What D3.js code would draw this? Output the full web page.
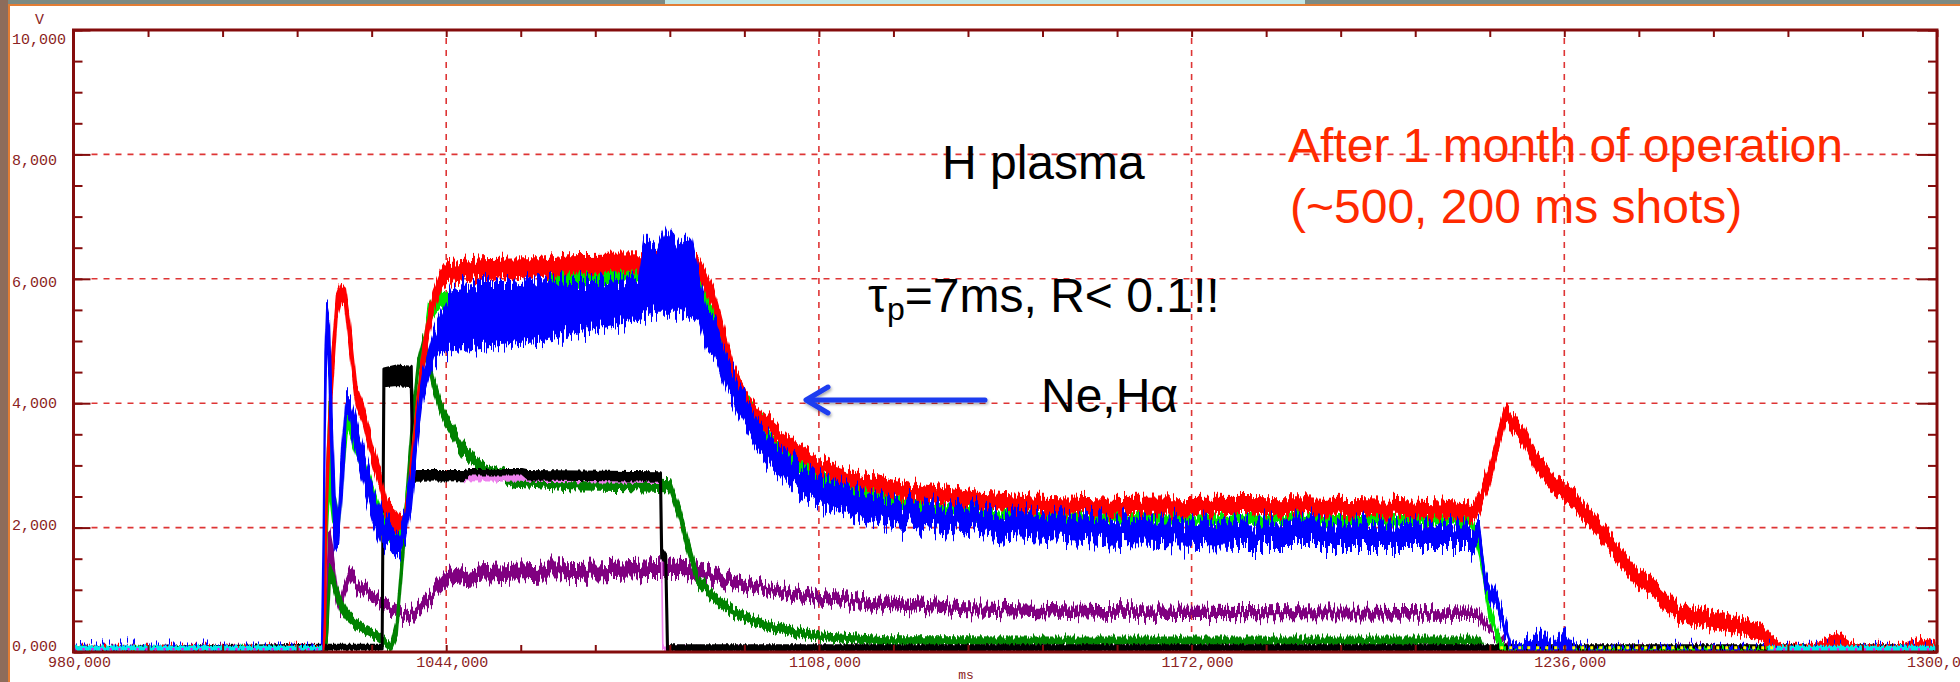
<!DOCTYPE html>
<html><head><meta charset="utf-8">
<script src="https://cdn.jsdelivr.net/npm/d3@7"></script>
<style>html,body{margin:0;padding:0;background:#fff;overflow:hidden}</style>
</head><body><svg id="c" width="1960" height="682"></svg>
<script>
// ---------- data ----------
const timeDomain = [980, 1300];
const voltDomain = [0, 10];
const timeTickValues = [980, 1044, 1108, 1172, 1236, 1300];
const timeTickLabels = ["980,000", "1044,000", "1108,000", "1172,000", "1236,000", "1300,000"];
const voltTickValues = [0, 2, 4, 6, 8, 10];
const voltTickLabels = ["0,000", "2,000", "4,000", "6,000", "8,000", "10,000"];
const xUnit = "ms";
const yUnit = "V";

// each trace: [time ms, lower edge V, upper edge V] (noise envelope)
const redTrace = [
 [980,0,0.07],[1022.8,0,0.07],[1023.2,0.3,1.2],[1023.5,2.3,2.9],[1024.3,4.1,4.7],[1025.2,5.35,5.7],
 [1026.0,5.65,5.9],[1026.6,5.6,5.85],[1027.3,5.0,5.4],[1028.6,3.95,4.25],[1029.7,3.65,3.95],[1031.4,3.0,3.3],
 [1032.6,2.6,2.9],[1033.8,2.1,2.4],[1034.9,1.95,2.3],[1036.0,1.9,2.15],[1036.9,1.95,2.2],[1037.5,2.3,2.6],
 [1038.3,3.1,3.4],[1039.5,4.15,4.5],[1040.7,4.95,5.3],[1041.8,5.5,5.8],[1043.0,5.8,6.1],[1044.1,5.95,6.25],
 [1050,6.0,6.3],[1060,6.02,6.32],[1065,6.1,6.38],[1080,6.12,6.4],[1087,6.05,6.35],[1088.5,5.8,6.1],
 [1089.8,5.55,5.85],[1091.0,5.15,5.45],[1092.2,4.7,5.0],[1093.5,4.3,4.55],[1095.5,3.92,4.18],[1098,3.62,3.88],
 [1100.7,3.4,3.65],[1104,3.13,3.38],[1107.3,2.92,3.16],[1110,2.78,3.02],[1113.9,2.65,2.9],[1120.4,2.5,2.76],
 [1127,2.4,2.65],[1135,2.3,2.55],[1145,2.24,2.5],[1160,2.2,2.46],[1175,2.22,2.48],[1190,2.22,2.47],
 [1205,2.2,2.45],[1215,2.16,2.42],[1220.6,2.12,2.38],[1223,2.65,2.95],[1226,3.7,3.95],[1227,3.55,3.8],
 [1228.9,3.33,3.6],[1231.1,2.9,3.18],[1234,2.58,2.85],[1237.6,2.3,2.58],[1241.2,1.94,2.2],[1244.9,1.5,1.78],
 [1248.5,1.08,1.34],[1252.1,0.82,1.08],[1255.7,0.5,0.75],[1259,0.42,0.68],[1262.9,0.34,0.6],[1266,0.3,0.54],
 [1269.4,0.22,0.48],[1271.5,0.05,0.25],[1273.8,0,0.1],[1279,0,0.1],[1283,0.05,0.3],[1286,0,0.1],
 [1294,0,0.1],[1297.6,0.03,0.22],[1300,0,0.12]
];
const blueTrace = [
 [980,0,0.06],[1022.6,0,0.06],[1022.9,0.8,2.0],[1023.2,3.5,4.8],[1023.5,5.1,5.6],[1023.9,4.4,5.4],
 [1024.4,2.6,3.8],[1024.9,1.75,2.6],[1025.5,1.65,2.1],[1026.1,2.4,3.2],[1026.8,3.65,4.1],[1027.5,3.8,4.1],
 [1028.5,3.2,3.75],[1030,2.6,3.15],[1031.5,2.1,2.65],[1033,1.75,2.25],[1034.5,1.6,2.0],[1036,1.55,1.9],
 [1037,1.7,2.15],[1038,2.35,2.9],[1039,3.3,3.8],[1040,4.1,4.5],[1041.8,4.65,5.1],[1043,4.8,5.4],
 [1045,4.85,5.85],[1050,4.9,5.95],[1055,4.95,5.95],[1060,5.0,6.0],[1065,5.1,5.95],[1070,5.2,5.95],
 [1075,5.3,6.0],[1077,5.35,6.0],[1078,5.4,6.6],[1080,5.45,6.4],[1082,5.45,6.85],[1084,5.45,6.5],
 [1086,5.4,6.7],[1087.5,5.3,6.0],[1088.7,4.9,5.5],[1090.2,4.75,5.35],[1092.2,4.2,4.7],[1094.1,3.8,4.3],
 [1097.4,3.3,3.75],[1100,3.0,3.45],[1104,2.6,3.05],[1109.2,2.35,2.8],[1115,2.15,2.6],[1120,2.05,2.45],
 [1130,1.95,2.35],[1140,1.85,2.25],[1160,1.75,2.15],[1180,1.7,2.1],[1200,1.7,2.1],[1220,1.7,2.05],
 [1221.4,1.6,1.95],[1222,1.3,1.55],[1222.4,1.05,1.3],[1224.6,0.62,0.85],[1226,0.22,0.42],[1226.7,0.05,0.2],
 [1228,0,0.1],[1232,0,0.3],[1234,0,0.12],[1236,0,0.35],[1238,0,0.08],[1240,0,0.04],[1300,0,0.04]
];
const greenTrace = [
 [980,0,0.05],[1023.3,0,0.05],[1023.6,0.3,0.7],[1024.0,1.05,1.35],[1024.5,1.1,1.3],[1025,0.9,1.1],
 [1026,0.65,0.85],[1027,0.5,0.66],[1028.5,0.38,0.52],[1030,0.3,0.42],[1032,0.2,0.32],[1033.5,0.1,0.22],
 [1034.5,0.02,0.12],[1035.5,0.25,0.5],[1036.6,1.5,1.75],[1037.5,2.7,2.95],[1038.3,3.65,3.9],[1039.2,4.5,4.7],
 [1040.1,4.88,5.05],[1041,4.6,4.8],[1041.8,4.25,4.45],[1043,3.85,4.05],[1044.1,3.6,3.8],[1046.9,3.15,3.35],
 [1049.8,2.9,3.05],[1055.5,2.68,2.85],[1065,2.62,2.8],[1078.4,2.6,2.78],[1082.5,2.58,2.76],[1084.2,2.1,2.3],
 [1085.5,1.6,1.8],[1087.2,1.08,1.24],[1089.5,0.86,1.0],[1092.5,0.62,0.76],[1096,0.47,0.59],[1099.3,0.36,0.48],
 [1104,0.26,0.38],[1108,0.2,0.3],[1119,0.12,0.24],[1150,0.11,0.23],[1221.5,0.11,0.23],[1222.2,0.02,0.07],
 [1300,0,0.04]
];
const limeTrace = [
 [980,0,0.05],[1022.7,0,0.05],[1023.3,1.4,2.4],[1023.9,2.6,4.0],[1024.5,2.1,2.7],[1025.5,1.9,2.2],
 [1027,3.6,3.9],[1030,2.8,3.1],[1033,1.95,2.2],[1035,1.75,1.95],[1036.5,1.85,2.05],[1038,2.8,3.1],
 [1039.5,4.2,4.5],[1041,5.3,5.6],[1043,5.55,5.8],[1050,5.45,5.7],[1060,5.55,5.8],[1063,5.88,6.15],
 [1070,5.92,6.2],[1080,5.95,6.22],[1086,5.92,6.18],[1088,5.55,5.85],[1090,5.25,5.55],[1092.2,4.5,4.75],
 [1095,3.95,4.2],[1100,3.25,3.48],[1105,2.85,3.08],[1110,2.6,2.82],[1120,2.32,2.55],[1130,2.15,2.36],
 [1150,2.05,2.22],[1220,2.03,2.2],[1221.5,1.5,1.8],[1223,0.6,0.8],[1225,0.05,0.2],[1226,0,0.04],[1300,0,0.04]
];
const purpleTrace = [
 [980,0,0.05],[1023.2,0,0.05],[1023.5,0.3,0.8],[1023.9,1.3,1.9],[1024.5,1.3,1.6],[1025.2,0.85,1.05],
 [1025.8,0.66,0.82],[1026.5,0.9,1.06],[1027.5,1.12,1.3],[1029,0.98,1.13],[1031,0.83,0.97],[1033.2,0.68,0.81],
 [1036.1,0.55,0.69],[1037.8,0.5,0.65],[1039.5,0.64,0.8],[1041.8,0.86,1.02],[1044.1,1.1,1.3],[1050,1.15,1.36],
 [1060,1.18,1.4],[1070,1.2,1.42],[1080,1.23,1.46],[1086,1.22,1.44],[1092.7,1.05,1.22],[1099.3,0.94,1.07],
 [1108,0.8,0.95],[1119,0.7,0.85],[1132,0.63,0.77],[1156,0.57,0.72],[1190,0.56,0.7],[1221.3,0.55,0.68],
 [1222.4,0.38,0.47],[1224.6,0.2,0.27],[1226,0.11,0.16],[1228,0.02,0.06],[1300,0,0.03]
];
const blackTrace = [
 [980,0,0.06],[1023.3,0.05,0.11],[1033.0,0.05,0.11],[1033.3,4.28,4.55],[1035.5,4.3,4.6],[1038.0,4.28,4.58],
 [1038.3,2.76,2.9],[1047,2.77,2.9],[1048,2.86,2.92],[1057,2.86,2.92],[1058,2.78,2.9],[1080.8,2.76,2.88],
 [1081.0,1.52,1.65],[1081.7,1.45,1.55],[1082.0,0.03,0.1],[1300,0.03,0.1]
];
const violetTrace = [
 [1047,2.76,2.86],[1057,2.75,2.86],[1080.8,2.73,2.84],[1081.2,0.04,0.09],[1224,0.04,0.09],[1226,0,0.03]
];
const cyanTrace = [
 [980,0.02,0.09],[1022.6,0.02,0.09],[1022.7,null,null],[1271,0.01,0.09],[1300,0.01,0.09]
];
const magentaTrace = [
 [980,0.02,0.07],[1022,0.02,0.07],[1022.1,null,null],[1272,0.02,0.06],[1300,0.02,0.06]
];
const yellowTrace = [
 [1225,0.04,0.1],[1272,0.04,0.1]
];

// ---------- layout ----------
const W = 1960, H = 682;
const P = {l: 73.5, r: 1937, t: 30, b: 652};
const svg = d3.select('#c');
const defs = svg.append('defs');
const x = d3.scaleLinear().domain(timeDomain).range([P.l, P.r]);
const y = d3.scaleLinear().domain(voltDomain).range([P.b, P.t]);
const axisCol = '#840c0c', labelCol = '#8b2323', gridCol = '#de3535';

// window chrome
svg.append('rect').attr('width', W).attr('height', H).attr('fill', '#fff');
svg.append('rect').attr('x', 0).attr('y', 0).attr('width', W).attr('height', 4).attr('fill', '#7c8a83');
svg.append('rect').attr('x', 665).attr('y', 0).attr('width', 640).attr('height', 4).attr('fill', '#c3e7e5');
svg.append('rect').attr('x', 0).attr('y', 4).attr('width', W).attr('height', 2).attr('fill', '#e27d35');
svg.append('rect').attr('x', 0).attr('y', 0).attr('width', 8).attr('height', H).attr('fill', '#8d6c5b');
svg.append('rect').attr('x', 8).attr('y', 4).attr('width', 2).attr('height', H).attr('fill', '#e27d35');

// gridlines
const grid = svg.append('g');
voltTickValues.filter(v => v > voltDomain[0] && v < voltDomain[1]).forEach(v => {
  grid.append('line').attr('x1', P.l + 18).attr('x2', P.r - 20).attr('y1', y(v)).attr('y2', y(v))
    .attr('stroke', gridCol).attr('stroke-width', 1.6).attr('stroke-dasharray', '6,6');
});
timeTickValues.filter(t => t > timeDomain[0] && t < timeDomain[1]).forEach(t => {
  grid.append('line').attr('y1', P.t + 8).attr('y2', P.b - 8).attr('x1', x(t)).attr('x2', x(t))
    .attr('stroke', gridCol).attr('stroke-width', 1.6).attr('stroke-dasharray', '6,6');
});

// signal-noise texture (pure rendering style: vertical pixel jitter of the drawn band)
function jitterFilter(id, scale, seed) {
  const fl = defs.append('filter').attr('id', id).attr('filterUnits', 'userSpaceOnUse')
    .attr('x', 0).attr('y', 0).attr('width', W).attr('height', H)
    .attr('color-interpolation-filters', 'sRGB');
  fl.append('feTurbulence').attr('type', 'fractalNoise').attr('baseFrequency', '0.45 0.003')
    .attr('numOctaves', 2).attr('seed', seed).attr('result', 'n');
  fl.append('feColorMatrix').attr('in', 'n').attr('type', 'matrix')
    .attr('values', '0 0 0 0 0.5  0 1 0 0 0  0 0 0 0 0  0 0 0 0 1').attr('result', 'm');
  fl.append('feDisplacementMap').attr('in', 'SourceGraphic').attr('in2', 'm').attr('scale', scale)
    .attr('xChannelSelector', 'R').attr('yChannelSelector', 'G');
  return `url(#${id})`;
}

// traces
defs.append('clipPath').attr('id', 'plotclip').append('rect')
  .attr('x', P.l + 1.5).attr('y', P.t).attr('width', P.r - P.l - 3).attr('height', P.b - P.t - 1);
const tg = svg.append('g').attr('clip-path', 'url(#plotclip)');
const area = d3.area().defined(d => d[1] != null)
  .x(d => x(d[0])).y0(d => y(d[1])).y1(d => y(d[2]));
const midLine = d3.line().defined(d => d[1] != null)
  .x(d => x(d[0])).y(d => y((d[1] + d[2]) / 2));
let seedN = 1;
function band(data, color, sw, jitter) {
  const g = tg.append('g');
  if (jitter) g.attr('filter', jitterFilter('j' + seedN, jitter, seedN++));
  g.append('path').datum(data).attr('d', area).attr('fill', color)
    .attr('stroke', color).attr('stroke-width', sw || 1.4).attr('stroke-linejoin', 'round');
}
function speckle(data, color, w, dash) {
  tg.append('path').datum(data).attr('d', midLine).attr('fill', 'none')
    .attr('stroke', color).attr('stroke-width', w).attr('stroke-dasharray', dash);
}
band(purpleTrace, '#800080', 2.4, 26);
band(greenTrace, '#008200', 2.2, 14);
band(violetTrace, '#ee82ee', 1.6, 6);
band(blackTrace, '#000000', 3, 5);
band(limeTrace, '#00e600', 1.6, 18);
band(redTrace, '#ff0000', 2, 22);
band(blueTrace, '#0000ff', 1.6, 40);
band(cyanTrace, '#00eaea', 1.2, 8);
speckle(magentaTrace, '#ff00ff', 2.5, '2,7');
speckle(yellowTrace, '#ffff00', 3, '3,6');

// axis ticks (minor + major)
const minorT = d3.range(timeDomain[0], timeDomain[1] + 0.01, (timeTickValues[1] - timeTickValues[0]) / 5);
const minorV = d3.range(voltDomain[0], voltDomain[1] + 0.01, 0.5);
function styleAxis(g) {
  g.select('.domain').remove();
  g.selectAll('.tick line').attr('stroke', axisCol).attr('stroke-width', 2);
  g.selectAll('.tick text').remove();
}
svg.append('g').attr('transform', `translate(0,${P.t})`)
  .call(d3.axisTop(x).tickValues(minorT).tickSize(-7)).call(styleAxis);
svg.append('g').attr('transform', `translate(0,${P.b})`)
  .call(d3.axisBottom(x).tickValues(minorT).tickSize(-7)).call(styleAxis);
svg.append('g').attr('transform', `translate(${P.l},0)`)
  .call(d3.axisLeft(y).tickValues(minorV).tickSize(-9)).call(styleAxis);
svg.append('g').attr('transform', `translate(${P.r},0)`)
  .call(d3.axisRight(y).tickValues(minorV).tickSize(-9)).call(styleAxis);
svg.append('g').attr('transform', `translate(${P.l},0)`)
  .call(d3.axisLeft(y).tickValues(voltTickValues).tickSize(-17)).call(styleAxis);
svg.append('g').attr('transform', `translate(${P.r},0)`)
  .call(d3.axisRight(y).tickValues(voltTickValues).tickSize(-20)).call(styleAxis);

// frame
svg.append('rect').attr('x', P.l).attr('y', P.t).attr('width', P.r - P.l).attr('height', P.b - P.t)
  .attr('fill', 'none').attr('stroke', axisCol).attr('stroke-width', 3);

// tick labels
const mono = '"Liberation Mono", "DejaVu Sans Mono", monospace';
svg.append('g').selectAll('text').data(voltTickValues).join('text')
  .attr('x', 12).attr('y', v => y(v) + (v - 4) * 1.5 + 5)
  .attr('font-family', mono).attr('font-size', 15).attr('fill', labelCol)
  .text((v, i) => voltTickLabels[i]);
svg.append('g').selectAll('text').data(timeTickValues).join('text')
  .attr('x', t => x(t) + 6).attr('y', 667).attr('text-anchor', 'middle')
  .attr('font-family', mono).attr('font-size', 15).attr('fill', labelCol)
  .text((t, i) => timeTickLabels[i]);
svg.append('text').attr('x', 39.5).attr('y', 24).attr('text-anchor', 'middle')
  .attr('font-family', mono).attr('font-size', 15).attr('fill', labelCol).text(yUnit);
svg.append('text').attr('x', 966).attr('y', 679).attr('text-anchor', 'middle')
  .attr('font-family', mono).attr('font-size', 13).attr('fill', labelCol).text(xUnit);

// annotations
const sans = '"Liberation Sans", Arial, Helvetica, sans-serif';
svg.append('text').attr('x', 942).attr('y', 179).attr('font-family', sans).attr('font-size', 48)
  .attr('fill', '#000').text('H plasma');
const tau = svg.append('text').attr('x', 868).attr('y', 312).attr('font-family', sans)
  .attr('font-size', 48).attr('fill', '#000');
tau.append('tspan').text('τ');
tau.append('tspan').attr('font-size', 32).attr('dy', 8).text('p');
tau.append('tspan').attr('dy', -8).text('=7ms, R< 0.1!!');
svg.append('text').attr('x', 1041).attr('y', 412).attr('font-family', sans).attr('font-size', 48)
  .attr('fill', '#000').text('Ne,Hα');
svg.append('text').attr('x', 1288).attr('y', 162).attr('font-family', sans).attr('font-size', 48)
  .attr('fill', '#ff2a00').text('After 1 month of operation');
svg.append('text').attr('x', 1290).attr('y', 223).attr('font-family', sans).attr('font-size', 48)
  .attr('fill', '#ff2a00').text('(~500, 200 ms shots)');

// arrow
const f = defs.append('filter').attr('id', 'sh').attr('x', '-20%').attr('y', '-50%')
  .attr('width', '140%').attr('height', '200%');
f.append('feDropShadow').attr('dx', 1).attr('dy', 2).attr('stdDeviation', 1.5)
  .attr('flood-color', '#000').attr('flood-opacity', 0.35);
const ar = svg.append('g').attr('filter', 'url(#sh)').attr('stroke', '#1e3cf0')
  .attr('stroke-width', 5).attr('fill', 'none').attr('stroke-linecap', 'round').attr('stroke-linejoin', 'round');
ar.append('line').attr('x1', 985).attr('y1', 400).attr('x2', 808).attr('y2', 400);
ar.append('polyline').attr('points', '828,387 806,400 828,413');
</script>
</body></html>
